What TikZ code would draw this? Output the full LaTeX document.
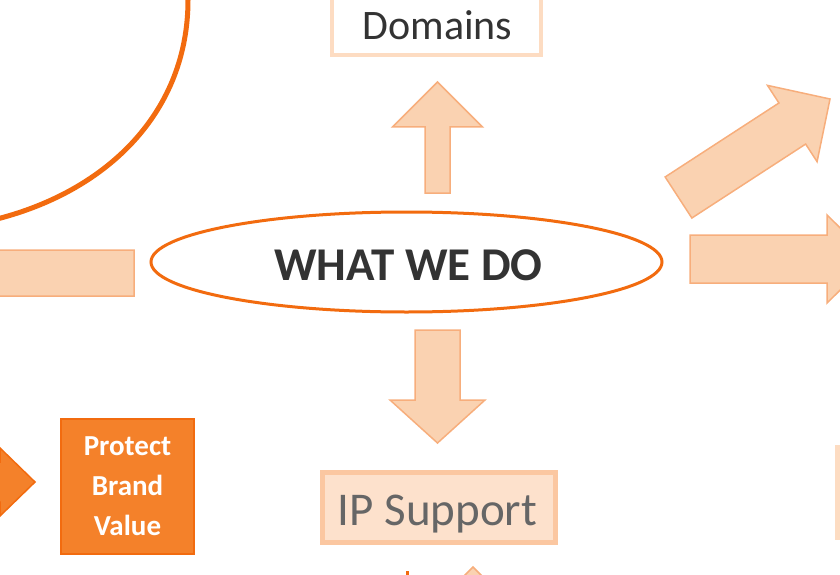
\documentclass[tikz,border=0pt]{standalone}
\usepackage{fontspec}
\setmainfont{Carlito}
\usetikzlibrary{shapes.geometric,calc}
\definecolor{wwdorange}{HTML}{F26B0F}
\definecolor{wwdpeach}{HTML}{FAD2B1}
\definecolor{wwdpeachline}{HTML}{F7AE7C}
\definecolor{wwdpale}{HTML}{FDE1CC}
\definecolor{wwdpaleline}{HTML}{FBC7A1}
\definecolor{wwdlight}{HTML}{FDDCC2}
\definecolor{wwdbox}{HTML}{F4812A}
\definecolor{wwdtext}{HTML}{333333}
\newcommand{\blockarrow}[6][peacharrow]{%
  \coordinate (hb) at ($(#3)!#6!(#2)$);
  \draw[#1] ($(#2)!#4!90:(#3)$) -- ($(hb)!#4!90:(#3)$) -- ($(hb)!#5!90:(#3)$) -- (#3)
    -- ($(hb)!#5!-90:(#3)$) -- ($(hb)!#4!-90:(#3)$) -- ($(#2)!#4!-90:(#3)$) -- cycle;
}
\begin{document}
\begin{tikzpicture}[x=1pt, y=-1pt,
    peacharrow/.style={fill=wwdpeach, draw=wwdpeachline, line width=1.5pt},
    orangearrow/.style={fill=wwdbox, draw=wwdorange, line width=1.5pt},
    oval/.style={ellipse, draw=wwdorange, line width=3pt, minimum width=511pt, minimum height=100pt, inner sep=0pt},
    boxtext/.style={anchor=base, text=wwdtext, inner sep=0pt}]
\useasboundingbox (0,0) rectangle (840,575);
\clip (0,0) rectangle (840,575);
\draw[wwdorange, line width=5pt] (188,-10) -- (188,0) .. controls (188,110) and (110,190) .. (-3,219);
\node[oval] (whatwedo) at (406.5,262) {};
\node[boxtext, font=\bfseries\fontsize{47}{49}\selectfont] (whatwedolabel) at (408.5,280) {WHAT WE DO};
\node[draw=wwdlight, line width=4pt, fill=white, minimum width=209pt, minimum height=90pt] (domains) at (436.5,10) {};
\node[boxtext, font=\fontsize{42}{44}\selectfont] (domainslabel) at (437.5,40) {Domains};
\node[draw=wwdpaleline, fill=wwdpale, line width=5pt, minimum width=233pt, minimum height=70pt] (ipsupport) at (439,507.5) {};
\node[boxtext, text=wwdtext!75, font=\fontsize{47}{49}\selectfont] (ipsupportlabel) at (437.5,525) {IP Support};
\node[draw=wwdorange, fill=wwdbox, line width=2pt, minimum width=133pt, minimum height=135pt, text=white, align=center,
    font=\bfseries\fontsize{29}{40}\selectfont] (protect) at (127.5,486.5) {Protect\\Brand\\Value};
\draw[draw=wwdlight, line width=5pt, fill=white] (837.5,447.5) rectangle (900,537.5);
\coordinate (uptail) at (437.5,193);
\coordinate (uptip) at (437.5,82);
\coordinate (downtail) at (437.5,330);
\coordinate (downtip) at (437.5,443);
\coordinate (righttail) at (690,259);
\coordinate (righttip) at (872,259);
\coordinate (diagtail) at (678.5,197.5);
\coordinate (diagtip) at (830,99);
\coordinate (lefttail) at (134,273);
\coordinate (lefttip) at (-80,273);
\coordinate (orangetail) at (-120,482);
\coordinate (orangetip) at (35,482);
\coordinate (bottomtail) at (473,700);
\coordinate (bottomtip) at (473,567);
\blockarrow{uptail}{uptip}{12.5pt}{45pt}{45pt}
\blockarrow{downtail}{downtip}{22.5pt}{47.5pt}{43pt}
\blockarrow{righttail}{righttip}{24pt}{44pt}{45pt}
\blockarrow{diagtail}{diagtip}{24.5pt}{45.5pt}{45pt}
\blockarrow{lefttail}{lefttip}{23pt}{45pt}{45pt}
\blockarrow[orangearrow]{orangetail}{orangetip}{20pt}{34pt}{35pt}
\blockarrow{bottomtail}{bottomtip}{20pt}{45pt}{45pt}
\draw[wwdorange, line width=3pt] (407,571) -- (407,600);
\end{tikzpicture}
\end{document}
